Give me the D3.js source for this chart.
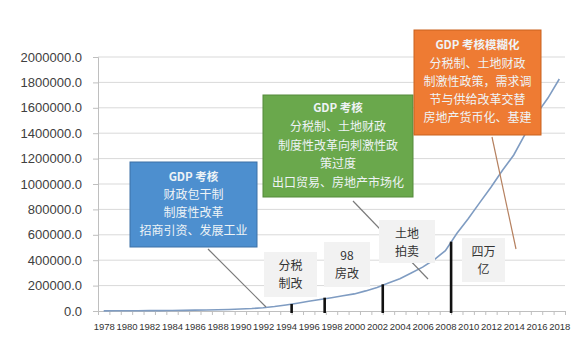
<!DOCTYPE html>
<html><head><meta charset="utf-8">
<script src="https://cdn.jsdelivr.net/npm/d3@7/dist/d3.min.js"></script>
<style>body{margin:0;background:#fff;}svg{display:block;}</style>
</head><body><svg id="c" width="580" height="350"></svg>
<script>
const years = [1978,1979,1980,1981,1982,1983,1984,1985,1986,1987,1988,1989,1990,1991,1992,1993,1994,1995,1996,1997,1998,1999,2000,2001,2002,2003,2004,2005,2006,2007,2008,2009,2010,2011,2012,2013,2014,2015,2016,2017,2018];
const m2Values = [1159,1458,1843,2235,2590,3075,4146,5199,6721,8350,10100,11950,15293,19350,25402,34880,46924,60751,76095,90995,104499,119898,134610,158302,185007,221223,254107,298756,345604,403442,475167,610225,725852,851591,974149,1106525,1228375,1392278,1550067,1676769,1826744];
const yTickValues = [0,200000,400000,600000,800000,1000000,1200000,1400000,1600000,1800000,2000000];
const xLabelYears = [1978,1980,1982,1984,1986,1988,1990,1992,1994,1996,1998,2000,2002,2004,2006,2008,2010,2012,2014,2016,2018];
const markerYears = [1994.5, 1997.4, 2002.5, 2008.5];
const markerValues = [55000, 105000, 210000, 546000];

const bigBoxes = [
  {x:130,y:162,w:127,h:85,fill:"#4d8fcf",stroke:"#3c70a6",cy:177,
   lines:["GDP 考核","财政包干制","制度性改革","招商引资、发展工业"],lh:18},
  {x:263,y:95,w:150,h:102,fill:"#6aa84c",stroke:"#548a3a",cy:108,
   lines:["GDP 考核","分税制、土地财政","制度性改革向刺激性政","策过度","出口贸易、房地产市场化"],lh:18.7},
  {x:414,y:30,w:127,h:105,fill:"#ee7b33",stroke:"#c9621f",cy:45,
   lines:["GDP 考核模糊化","分税制、土地财政","制激性政策，需求调","节与供给改革交替","房地产货币化、基建"],lh:18.3}
];
const smallBoxes = [
  {x:264,y:252,w:53,h:45,lines:["分税","制改"],cy:266},
  {x:324,y:242,w:46,h:45,lines:["98","房改"],cy:256},
  {x:379,y:220,w:56,h:43,lines:["土地","拍卖"],cy:234},
  {x:462,y:238,w:43,h:44,lines:["四万","亿"],cy:252}
];
const leaders = [
  {x1:208,y1:249,x2:266,y2:307,c:"#7a7a7a"},
  {x1:353,y1:201,x2:428,y2:279,c:"#7a7a7a"},
  {x1:492,y1:137,x2:516,y2:249,c:"#b5805f"}
];

const svg = d3.select("#c");
const x = d3.scaleLinear().domain([1977.5, 2018.5]).range([98, 565]);
const y = d3.scaleLinear().domain([0, 2000000]).range([311, 57]);

// gridlines
svg.append("g").selectAll("line").data(yTickValues.slice(1)).join("line")
  .attr("x1", 98).attr("x2", 565).attr("y1", d=>y(d)).attr("y2", d=>y(d))
  .attr("stroke", "#d9d9d9").attr("stroke-width", 1);

// y axis
const ya = svg.append("g").attr("transform","translate(98,0)")
  .call(d3.axisLeft(y).tickValues(yTickValues).tickFormat(d=>d3.format(".1f")(d)).tickSize(5).tickPadding(11));
ya.select(".domain").attr("stroke","#bfbfbf");
ya.selectAll(".tick line").attr("stroke","#bfbfbf");
ya.selectAll("text").attr("font-family","Liberation Sans, Arial, sans-serif").attr("font-size",13).attr("fill","#404040");

// x axis ticks at category boundaries
const boundaries = years.map(d=>d+0.5).concat([1977.5]);
const xa = svg.append("g").attr("transform","translate(0,311)")
  .call(d3.axisBottom(x).tickValues(boundaries).tickFormat("").tickSize(4));
xa.select(".domain").attr("stroke","#bfbfbf");
xa.selectAll(".tick line").attr("stroke","#bfbfbf");
const xl = svg.append("g").attr("transform","translate(0,311)")
  .call(d3.axisBottom(x).tickValues(xLabelYears).tickFormat(d3.format("d")).tickSize(0).tickPadding(12));
xl.select(".domain").remove();
xl.selectAll("text").attr("font-family","Liberation Sans, Arial, sans-serif").attr("font-size",9.5).attr("fill","#333");

// line
svg.append("path").datum(years.map((d,i)=>[d,m2Values[i]]))
  .attr("d", d3.line().x(d=>x(d[0])).y(d=>y(d[1])))
  .attr("fill","none").attr("stroke","#7f9cc2").attr("stroke-width",1.6);

// marker bars
svg.append("g").selectAll("line").data(markerYears).join("line")
  .attr("x1",(d)=>x(d)).attr("x2",(d)=>x(d))
  .attr("y1",(d,i)=>y(markerValues[i])).attr("y2", y(0)+2)
  .attr("stroke","#111").attr("stroke-width",2.6);

// leader lines
svg.append("g").selectAll("line").data(leaders).join("line")
  .attr("x1",d=>d.x1).attr("y1",d=>d.y1).attr("x2",d=>d.x2).attr("y2",d=>d.y2)
  .attr("stroke",d=>d.c).attr("stroke-width",1.2);

// small boxes
const sb = svg.append("g").selectAll("g").data(smallBoxes).join("g");
sb.append("rect").attr("x",d=>d.x).attr("y",d=>d.y).attr("width",d=>d.w).attr("height",d=>d.h).attr("fill","#f2f2f2");
sb.each(function(d){
  const g = d3.select(this);
  d.lines.forEach((t,i)=>{
    g.append("text").attr("x",d.x+d.w/2).attr("y",d.cy+i*17.6).attr("dy","0.35em")
      .attr("text-anchor","middle").attr("font-family","Noto Sans CJK SC, sans-serif")
      .attr("font-size",12).attr("fill","#333").text(t);
  });
});

// big boxes
const bb = svg.append("g").selectAll("g").data(bigBoxes).join("g");
bb.append("rect").attr("x",d=>d.x).attr("y",d=>d.y).attr("width",d=>d.w).attr("height",d=>d.h)
  .attr("fill",d=>d.fill).attr("stroke",d=>d.stroke).attr("stroke-width",1);
bb.each(function(d){
  const g = d3.select(this);
  d.lines.forEach((t,i)=>{
    g.append("text").attr("x",d.x+d.w/2).attr("y",d.cy+i*d.lh).attr("dy","0.35em")
      .attr("text-anchor","middle").attr("font-family","Noto Sans CJK SC, sans-serif")
      .attr("font-size",i===0?11.5:12).attr("font-weight",i===0?"bold":"normal")
      .attr("fill","#eef3f6").text(t);
  });
});
</script></body></html>
